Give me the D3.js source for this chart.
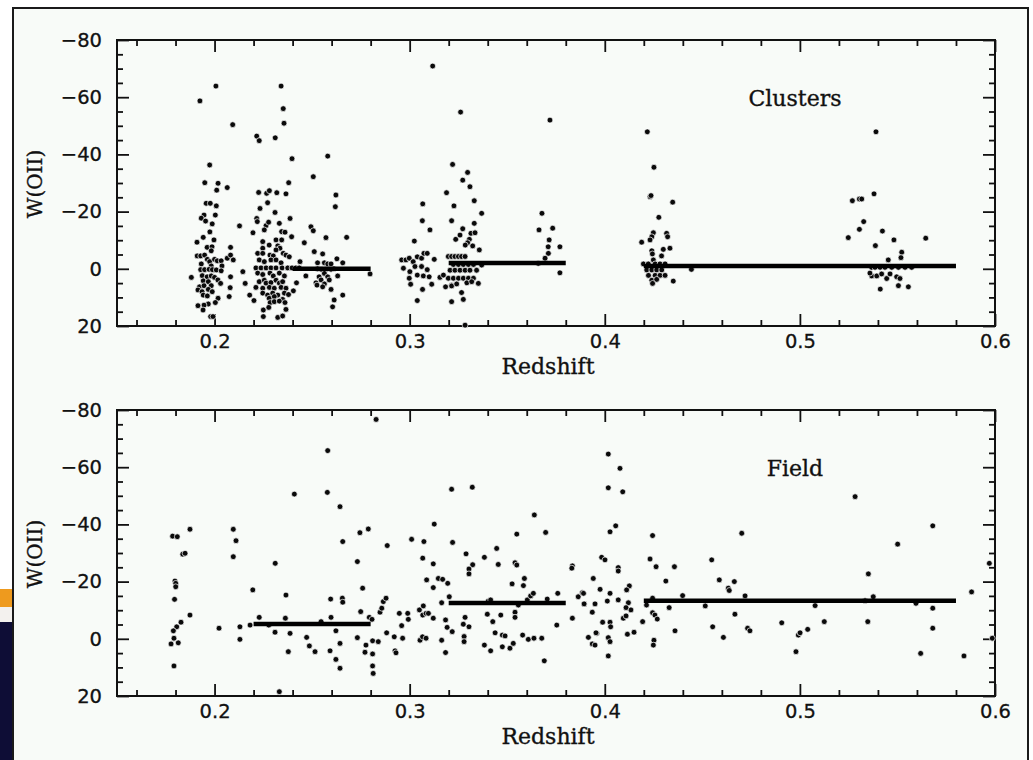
<!DOCTYPE html>
<html><head><meta charset="utf-8">
<script src="https://cdn.jsdelivr.net/npm/d3@7"></script>
<style>html,body{margin:0;padding:0;background:#fff;}svg{display:block;}</style>
</head><body>
<script>
// ---------- DATA ----------
const xMajorTicks = [0.2, 0.3, 0.4, 0.5, 0.6];
const xMinorTicks = [0.16,0.18,0.22,0.24,0.26,0.28,0.32,0.34,0.36,0.38,0.42,0.44,0.46,0.48,0.52,0.54,0.56,0.58];
const yMajorTicks = [-80, -60, -40, -20, 0, 20];
const yMinorTicks = [-75,-70,-65,-55,-50,-45,-35,-30,-25,-15,-10,-5,5,10,15];
const panelLabels = ["Clusters", "Field"];

// mean lines: [zStart, zEnd, W]
const clusterMeans = [[0.24,0.28,0],[0.32,0.38,-2],[0.42,0.58,-1]];
const fieldMeans = [[0.22,0.28,-5.2],[0.32,0.38,-12.5],[0.42,0.58,-13.3]];

// cluster galaxies: [redshift, W(OII)]
const clusterPoints = [
[0.1925,-58.7],[0.2007,-63.9],[0.2093,-50.4],[0.1975,-36.3],[0.195,-30.1],[0.2018,-29.9],[0.2011,-27.5],[0.2065,-28.4],[0.1957,-22.9],[0.1978,-22.9],[0.2009,-22.0],[0.1946,-18.8],[0.1932,-17.7],[0.1954,-16.7],[0.2004,-18.8],[0.1988,-15.7],[0.2128,-15.0],[0.1976,-12.9],[0.1942,-11.0],[0.1997,-10.1],[0.191,-9.3],[0.2197,-12.6],[0.1962,-7.5],[0.1987,-7.7],[0.1983,-6.3],[0.2082,-7.5],[0.1911,-4.5],[0.1929,-4.5],[0.1949,-4.8],[0.1963,-3.3],[0.1975,-2.5],[0.2,-3.3],[0.2014,-2.8],[0.2034,-2.8],[0.2038,-1.0],[0.2065,-3.7],[0.2082,-4.8],[0.2096,-3.1],[0.1932,-1.7],[0.1983,-1.0],[0.1929,0.3],[0.1949,0.3],[0.1972,0.2],[0.1989,0.3],[0.2009,0.4],[0.2034,0.7],[0.1881,3.0],[0.1937,2.4],[0.1962,2.8],[0.1983,2.5],[0.2,3.0],[0.2017,3.9],[0.2031,5.1],[0.1942,4.2],[0.1968,4.5],[0.2082,2.8],[0.2145,1.0],[0.1923,6.3],[0.1946,5.9],[0.1983,5.9],[0.1915,7.4],[0.1936,8.0],[0.1968,7.2],[0.1988,8.0],[0.208,6.6],[0.2157,5.1],[0.1942,9.2],[0.1963,9.5],[0.2075,9.7],[0.218,9.2],[0.2018,10.3],[0.2004,11.8],[0.1968,12.3],[0.1946,12.7],[0.1915,12.9],[0.1941,14.4],[0.2202,11.1],[0.198,16.7],[0.1992,16.7],
[0.2341,-63.9],[0.2352,-56.0],[0.2356,-50.9],[0.2216,-46.4],[0.2229,-44.8],[0.2311,-45.8],[0.2397,-38.5],[0.238,-30.1],[0.2226,-26.7],[0.2267,-26.4],[0.2281,-27.3],[0.2319,-26.6],[0.2366,-26.2],[0.2272,-23.1],[0.2233,-21.1],[0.231,-19.7],[0.2387,-17.6],[0.2216,-17.6],[0.2219,-16.5],[0.2332,-15.9],[0.2264,-15.1],[0.2255,-13.6],[0.2344,-13.0],[0.2361,-12.8],[0.2277,-16.3],[0.2395,-11.2],[0.2247,-9.5],[0.2247,-7.2],[0.228,-8.3],[0.2315,-10.1],[0.2344,-10.1],[0.2324,-8.0],[0.2335,-7.2],[0.2315,-6.6],[0.2221,-5.4],[0.2247,-5.4],[0.2284,-4.8],[0.2301,-4.5],[0.2352,-5.4],[0.2366,-4.8],[0.2383,-4.2],[0.2438,-2.5],[0.2229,-3.1],[0.2255,-2.5],[0.2289,-3.1],[0.2315,-3.1],[0.2341,-2.1],[0.2212,-0.3],[0.2238,-0.3],[0.2264,-0.3],[0.2289,-0.3],[0.2315,-0.3],[0.2346,-0.3],[0.2375,-0.3],[0.2397,-0.3],[0.2417,-0.3],[0.2434,-0.3],[0.2221,1.5],[0.2247,2.0],[0.2284,1.5],[0.2301,2.5],[0.2332,1.5],[0.2358,2.5],[0.2468,2.5],[0.2229,4.5],[0.2255,4.0],[0.2264,5.0],[0.2289,4.8],[0.2315,4.0],[0.2332,5.0],[0.2349,4.5],[0.242,4.9],[0.2212,6.5],[0.2247,6.8],[0.2281,6.5],[0.2306,6.8],[0.2341,6.5],[0.2366,6.8],[0.2404,7.7],[0.2247,8.5],[0.2272,9.2],[0.2298,8.5],[0.2324,9.2],[0.2358,8.5],[0.2379,9.0],[0.228,10.3],[0.2306,9.7],[0.2349,10.7],[0.2285,11.8],[0.2306,11.5],[0.2332,11.3],[0.2361,11.8],[0.225,14.4],[0.2366,14.2],[0.225,16.7],[0.2324,17.0],[0.2349,16.5],[0.2278,13.5],
[0.258,-39.4],[0.2506,-32.2],[0.2622,-25.8],[0.2619,-21.7],[0.2494,-14.7],[0.2506,-13.3],[0.2571,-10.9],[0.2677,-11.0],[0.246,-9.1],[0.2511,-6.0],[0.2554,-5.2],[0.2627,-3.5],[0.2657,-2.1],[0.2528,-2.1],[0.2563,-2.1],[0.258,-1.7],[0.2597,-1.7],[0.2528,0],[0.2548,0.2],[0.2571,0.2],[0.2597,0.2],[0.2612,0],[0.2536,2.8],[0.2563,1.6],[0.258,2.8],[0.2631,2.5],[0.252,4.9],[0.2546,3.9],[0.2563,5.3],[0.2588,3.9],[0.2525,5.7],[0.2554,6.3],[0.2597,7.2],[0.2657,9.2],[0.2613,10.9],[0.2605,13.3],[0.2797,1.8],
[0.3118,-70.9],[0.3261,-54.8],[0.3719,-52.0],[0.322,-36.5],[0.3297,-33.7],[0.3272,-31.0],[0.3309,-28.7],[0.3189,-26.6],[0.3331,-23.8],[0.3067,-22.7],[0.3227,-22.0],[0.3369,-19.4],[0.3678,-19.4],[0.3065,-16.8],[0.3215,-16.8],[0.3331,-15.9],[0.3663,-13.6],[0.3733,-14.2],[0.3104,-13.6],[0.3272,-14.0],[0.3258,-11.8],[0.3314,-12.4],[0.3335,-12.6],[0.3024,-9.7],[0.3236,-10.3],[0.3306,-10.3],[0.3297,-9.1],[0.3715,-10.1],[0.371,-7.7],[0.377,-7.7],[0.3285,-8.3],[0.3323,-8.0],[0.3357,-6.6],[0.3711,-5.4],[0.3694,-3.7],[0.3659,-1.9],[0.377,1.4],
[0.2959,-3.1],[0.2981,-3.1],[0.2998,-3.7],[0.3018,-2.5],[0.3039,-4.2],[0.3061,-3.7],[0.3073,-5.4],[0.309,-5.4],[0.3126,-3.3],[0.2968,-0.2],[0.3001,1.0],[0.3027,-0.8],[0.3061,-0.8],[0.309,0.3],[0.2998,3.3],[0.3039,2.2],[0.307,2.5],[0.31,2.8],[0.3005,5.4],[0.3066,7.2],[0.3113,5.4],[0.3039,11.1],[0.3155,3.0],[0.3184,6.3],[0.3215,5.7],[0.3215,11.5],[0.3275,10.7],[0.3266,8.3],[0.3284,19.7],
[0.3198,-4.3],[0.3215,-4.3],[0.3232,-4.3],[0.325,-4.3],[0.3266,-4.3],[0.3284,-4.3],[0.3224,-1.5],[0.325,-1.5],[0.3275,-1.5],[0.3301,-1.5],[0.3327,-1.5],[0.3207,0.5],[0.3232,0.5],[0.3258,0.5],[0.3284,0.5],[0.3309,0.5],[0.3343,0.5],[0.3198,3.3],[0.3224,3.3],[0.325,3.3],[0.3275,3.3],[0.3301,3.3],[0.3327,3.3],[0.3215,6.0],[0.3241,5.3],[0.3293,4.9],[0.3318,4.5],[0.3352,5.1],[0.3369,-1.3],[0.3173,2.2],
[0.4218,-47.9],[0.4252,-35.5],[0.4232,-25.2],[0.4237,-25.6],[0.4348,-23.3],[0.4277,-18.0],[0.4249,-12.6],[0.4241,-11.2],[0.4232,-10.1],[0.4317,-12.4],[0.4322,-11.2],[0.4189,-9.3],[0.43,-6.8],[0.4334,-7.2],[0.4241,-6.3],[0.4244,-5.2],[0.4291,-4.5],[0.4249,-3.1],[0.4198,-1.7],[0.4223,-1.7],[0.4258,-1.7],[0.4283,-1.7],[0.4309,-1.7],[0.4215,0.4],[0.4241,0.4],[0.4266,0.4],[0.4292,0.4],[0.4444,0.2],[0.4224,2.3],[0.4258,2.3],[0.4283,2.3],[0.4309,2.3],[0.4241,4.0],[0.4266,3.7],[0.4351,4.3],[0.4245,5.1],
[0.539,-47.9],[0.538,-26.2],[0.5269,-23.8],[0.5305,-24.4],[0.5317,-24.4],[0.5327,-16.5],[0.5305,-13.8],[0.5423,-13.2],[0.5248,-10.9],[0.5482,-10.1],[0.5645,-10.7],[0.5387,-8.1],[0.5522,-5.8],[0.5518,-3.9],[0.5453,-3.1],[0.5368,-0.5],[0.5385,-0.5],[0.5411,-0.5],[0.5436,-0.5],[0.5471,-0.5],[0.5505,-0.5],[0.5539,-0.5],[0.5573,-0.5],[0.5368,2.5],[0.5359,1.5],[0.5394,2.5],[0.5419,1.8],[0.5445,3.4],[0.5496,2.8],[0.5513,3.4],[0.5462,1.8],[0.5412,7.1],[0.5505,5.9],[0.5556,6.3]
];

// field galaxies: [redshift, W(OII)]
const fieldPoints = [
[0.1785,-35.9],[0.1809,-35.7],[0.1874,-38.3],[0.1837,-29.6],[0.1849,-29.9],[0.1797,-20.2],[0.1801,-19.4],[0.1801,-18.2],[0.1795,-13.8],[0.1874,-8.3],[0.1828,-5.8],[0.1806,-4.2],[0.1789,-2.8],[0.1792,-0.2],[0.1814,1.4],[0.1777,1.8],[0.1792,9.5],
[0.2023,-3.7],[0.2096,-38.3],[0.211,-34.3],[0.2096,-28.7],[0.213,-4.2],[0.213,0.2],[0.2196,-17.1],[0.2182,-4.8],[0.2229,-7.5],[0.2278,-4.8],[0.2311,-26.4],[0.231,-2.3],[0.2366,-15.3],[0.2363,-7.2],[0.2387,-1.9],[0.2378,4.5],[0.2409,-50.6],[0.2332,18.5],
[0.2828,-76.7],[0.258,-65.8],[0.2578,-51.2],[0.2643,-46.2],[0.2657,-34.0],[0.2745,-37.1],[0.2788,-38.4],[0.2732,-27.0],[0.2759,-17.7],[0.2595,-13.9],[0.2655,-14.2],[0.2657,-12.8],[0.2749,-9.5],[0.2597,-7.5],[0.2546,-6.0],[0.2793,-7.5],[0.2807,-6.8],[0.2622,-2.8],[0.2472,-0.5],[0.2486,2.5],[0.2515,4.5],[0.2732,-0.4],[0.2643,1.6],[0.2592,4.2],[0.2622,7.2],[0.2643,10.3],[0.2776,2.2],[0.2771,4.7],[0.281,0.7],[0.281,5.3],[0.2839,1.0],[0.281,9.5],[0.2813,12.1],[0.2848,-9.3],[0.2857,-10.7],[0.2865,-13.0],[0.2879,-14.2],[0.2885,-32.6],[0.2882,-2.1],[0.2921,-0.7],[0.2925,4.2],[0.293,4.9],[0.2947,-8.9],[0.2959,-4.6],[0.2964,-0.2],[0.299,-8.9],[0.2993,-6.8],
[0.301,-34.8],[0.3073,-34.0],[0.3067,-28.2],[0.3121,-26.2],[0.3126,-40.1],[0.3121,-17.9],[0.3087,-20.6],[0.305,-10.1],[0.307,-11.5],[0.3067,-8.3],[0.3084,-8.9],[0.3096,-8.9],[0.3121,-7.2],[0.3053,0.5],[0.3066,-0.7],[0.3084,-0.2],[0.3147,-21.1],[0.3169,-20.8],[0.3195,-19.4],[0.3164,-12.6],[0.3203,-14.7],[0.3215,-52.3],[0.322,-33.7],[0.3321,-53.0],[0.3184,-6.6],[0.3192,-4.0],[0.3218,-2.5],[0.3164,0.5],[0.3184,4.8],[0.3289,-29.7],[0.3323,-25.9],[0.3304,-24.4],[0.3304,-22.7],[0.3284,-7.5],[0.3275,-5.1],[0.3304,-4.2],[0.3279,-0.8],[0.3279,1.0],[0.3383,-28.5],[0.3446,-31.6],[0.3454,-26.0],[0.3403,-13.2],[0.3415,-13.6],[0.3398,-8.6],[0.3426,-6.0],[0.3467,-8.3],[0.3438,-2.1],[0.3383,2.2],[0.3415,4.2],[0.3475,-1.3],[0.3489,-1.0],[0.3475,2.8],[0.3514,3.3],[0.3531,1.6],[0.3525,-19.2],[0.3549,-36.6],[0.354,-26.6],[0.3549,-25.8],[0.3588,-21.1],[0.3583,-18.6],[0.354,-9.3],[0.354,-7.5],[0.3557,-11.8],[0.3603,-13.6],[0.362,-15.0],[0.3634,-15.9],[0.3579,-1.3],[0.3608,0.2],[0.3637,-0.2],[0.3677,-0.2],[0.3639,-43.3],[0.3697,-37.2],[0.3705,-13.9],[0.369,7.7],[0.3754,-4.8],[0.3759,-15.9],[0.3834,-25.5],[0.3831,-24.7],[0.3834,-7.2],[0.3864,-14.7],[0.3885,-16.1],[0.3895,-12.2],[0.3941,-21.1],[0.395,-12.2],[0.3936,-9.3],[0.3976,-17.3],[0.3916,-0.5],[0.3936,1.8],[0.395,2.2],[0.3959,-1.9],
[0.4018,-64.6],[0.4078,-59.6],[0.4018,-52.8],[0.4092,-51.4],[0.4056,-39.5],[0.4027,-37.4],[0.3984,-28.5],[0.4001,-27.6],[0.4069,-24.9],[0.4069,-23.7],[0.4027,-15.9],[0.4126,-18.5],[0.4112,-17.1],[0.3891,-15.9],[0.3894,-12.2],[0.4013,-13.2],[0.4069,-13.6],[0.4121,-12.6],[0.4134,-10.1],[0.4109,-10.9],[0.3989,-5.8],[0.4027,-5.8],[0.403,-4.2],[0.4095,-7.2],[0.4109,-8.0],[0.3955,-2.1],[0.4018,-0.4],[0.4027,1.0],[0.4018,6.0],[0.4116,-1.6],[0.415,-2.3],
[0.4194,-6.0],[0.4214,-11.8],[0.4245,-14.2],[0.4245,-9.1],[0.4257,-8.3],[0.4269,-6.9],[0.4245,-36.1],[0.4232,-27.9],[0.4263,-25.2],[0.4313,-20.2],[0.4357,-25.2],[0.4399,-15.1],[0.433,-10.9],[0.4252,0.5],[0.4249,2.2],[0.436,-2.8],[0.4515,-11.5],[0.4548,-27.6],[0.4553,-4.2],[0.4587,-20.6],[0.4633,-17.7],[0.4638,-16.9],[0.4664,-20.0],[0.4608,-0.5],[0.4667,-8.6],[0.4702,-36.9],[0.4719,-15.0],[0.4732,-3.7],[0.4744,-2.8],[0.4907,-5.6],[0.498,4.5],[0.4992,-1.3],[0.5001,-2.1],[0.504,-3.3],[0.5078,-11.6],[0.5125,-6.0],[0.5283,-49.7],[0.5334,-13.3],[0.5348,-6.0],[0.5351,-22.7],[0.5376,-14.7],[0.5501,-33.1],[0.5595,-12.4],[0.5619,5.1],[0.5681,-39.5],[0.5681,-10.7],[0.5681,-3.7],[0.5841,6.0],[0.588,-16.4],[0.5971,-26.4],[0.5986,-0.2]
];

// ---------- DRAW ----------
const W = 1033, H = 760;
const svg = d3.select("body").append("svg").attr("width", W).attr("height", H);
svg.append("rect").attr("width", W).attr("height", H).attr("fill", "#fff");

// slide remnants on the far left
svg.append("rect").attr("x", 0).attr("y", 589).attr("width", 14).attr("height", 18).attr("fill", "#ee9a1e");
svg.append("rect").attr("x", 0).attr("y", 607).attr("width", 14).attr("height", 15).attr("fill", "#f3f1ee");
svg.append("rect").attr("x", 0).attr("y", 622).attr("width", 14).attr("height", 138).attr("fill", "#0e0d36");

// figure background + border
svg.append("rect").attr("x", 13).attr("y", 8).attr("width", 1015).attr("height", 770)
  .attr("fill", "#f8fbf8").attr("stroke", "#1a1a1a").attr("stroke-width", 2);

const x = d3.scaleLinear().domain([0.15, 0.6]).range([117, 995]);
const tickFont = "DejaVu Sans, Liberation Sans, sans-serif";
const serif = "DejaVu Serif, Liberation Serif, serif";

function panel(top, bottom, points, means, label, labelY) {
  const y = d3.scaleLinear().domain([-80, 20]).range([top, bottom]);
  const g = svg.append("g");

  const styleAxis = sel => {
    sel.select(".domain").remove();
    sel.selectAll("line").attr("stroke", "#111").attr("stroke-width", 1.8);
    sel.selectAll("text").attr("fill", "#111").attr("stroke", "#111").attr("stroke-width", 0.3)
      .style("font-family", tickFont).style("font-size", "19.5px");
  };
  // bottom
  g.append("g").attr("transform", `translate(0,${bottom})`)
    .call(d3.axisBottom(x).tickValues(xMajorTicks).tickSize(-12).tickPadding(8).tickFormat(d3.format(".1f"))).call(styleAxis);
  g.append("g").attr("transform", `translate(0,${bottom})`)
    .call(d3.axisBottom(x).tickValues(xMinorTicks).tickSize(-6).tickFormat("")).call(styleAxis);
  // top
  g.append("g").attr("transform", `translate(0,${top})`)
    .call(d3.axisTop(x).tickValues(xMajorTicks).tickSize(-12).tickFormat("")).call(styleAxis);
  g.append("g").attr("transform", `translate(0,${top})`)
    .call(d3.axisTop(x).tickValues(xMinorTicks).tickSize(-6).tickFormat("")).call(styleAxis);
  // left
  g.append("g").attr("transform", `translate(117,0)`)
    .call(d3.axisLeft(y).tickValues(yMajorTicks).tickSize(-12).tickPadding(15).tickFormat(d3.format("d"))).call(styleAxis);
  g.append("g").attr("transform", `translate(117,0)`)
    .call(d3.axisLeft(y).tickValues(yMinorTicks).tickSize(-6).tickFormat("")).call(styleAxis);
  // right
  g.append("g").attr("transform", `translate(995,0)`)
    .call(d3.axisRight(y).tickValues(yMajorTicks).tickSize(-12).tickFormat("")).call(styleAxis);
  g.append("g").attr("transform", `translate(995,0)`)
    .call(d3.axisRight(y).tickValues(yMinorTicks).tickSize(-6).tickFormat("")).call(styleAxis);

  // frame
  g.append("rect").attr("x", 117).attr("y", top).attr("width", 995 - 117).attr("height", bottom - top)
    .attr("fill", "none").attr("stroke", "#111").attr("stroke-width", 2);

  // points
  g.append("g").selectAll("circle").data(points).join("circle")
    .attr("cx", d => x(d[0])).attr("cy", d => y(d[1])).attr("r", 2.9)
    .attr("fill", "#0a0a0a").attr("stroke", "#fff").attr("stroke-width", 0.7);

  // mean lines
  g.append("g").selectAll("line").data(means).join("line")
    .attr("x1", d => x(d[0])).attr("x2", d => x(d[1]))
    .attr("y1", d => y(d[2])).attr("y2", d => y(d[2]))
    .attr("stroke", "#000").attr("stroke-width", 4.5);

  // labels
  const lab = sel => sel.style("font-family", serif).attr("fill", "#111").attr("stroke", "#111").attr("stroke-width", 0.35);
  g.append("text").attr("x", 795).attr("y", labelY).attr("text-anchor", "middle")
    .style("font-size", "22px").call(lab).text(label);
  g.append("text").attr("x", 548).attr("y", bottom + 48).attr("text-anchor", "middle")
    .style("font-size", "22px").call(lab).text("Redshift");
  const cy = (top + bottom) / 2 + 1;
  g.append("text").attr("transform", `translate(42,${cy}) rotate(-90)`).attr("text-anchor", "middle")
    .style("font-size", "20px").call(lab).text("W(OII)");
}

panel(40, 326, clusterPoints, clusterMeans, panelLabels[0], 106);
panel(410, 696, fieldPoints, fieldMeans, panelLabels[1], 476);
</script>
</body></html>
